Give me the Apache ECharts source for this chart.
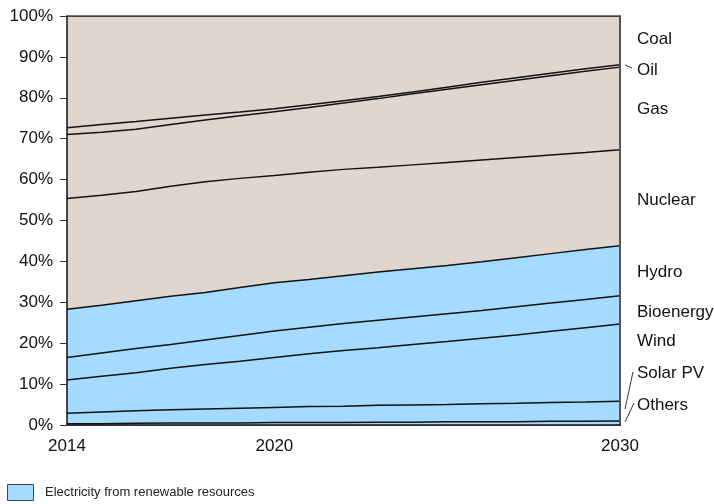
<!DOCTYPE html>
<html>
<head>
<meta charset="utf-8">
<script src="https://cdn.jsdelivr.net/npm/echarts@6/dist/echarts.min.js"></script>
<style>
  html, body { margin: 0; padding: 0; background: #fff; }
  #chart { width: 714px; height: 504px; }
</style>
</head>
<body>
<div id="chart"></div>
<script>
// years on the x axis
var years = ['2014', '2015', '2016', '2017', '2018', '2019', '2020', '2021', '2022',
  '2023', '2024', '2025', '2026', '2027', '2028', '2029', '2030'];
var yearLabels = ['2014', '2020', '2030'];

// share of electricity generation, % (stacked bottom -> top)
var others = [0.3, 0.3, 0.4, 0.5, 0.5, 0.5, 0.6, 0.6, 0.6, 0.7, 0.7, 0.8, 0.8, 0.8, 0.9, 0.9, 1.0];
var solarPV = [2.6, 2.9, 3.1, 3.2, 3.4, 3.6, 3.7, 3.9, 4.0, 4.1, 4.2, 4.2, 4.4, 4.5, 4.6, 4.7, 4.8];
var wind = [8.1, 8.7, 9.3, 10.2, 10.9, 11.5, 12.2, 12.9, 13.6, 14.1, 14.8, 15.4, 16.0, 16.7, 17.4, 18.2, 18.9];
var bioenergy = [5.5, 5.7, 5.9, 5.8, 6.0, 6.3, 6.5, 6.5, 6.6, 6.7, 6.7, 6.8, 6.8, 6.9, 6.9, 6.9, 6.9];
var hydro = [11.8, 11.7, 11.7, 11.8, 11.6, 11.7, 11.8, 11.7, 11.7, 11.8, 11.8, 11.8, 11.9, 12.0, 12.1, 12.2, 12.2];
var nuclear = [27.1, 26.9, 26.7, 26.9, 27.1, 26.7, 26.2, 26.2, 26.0, 25.6, 25.4, 25.2, 24.9, 24.5, 24.1, 23.7, 23.5];
var gas = [15.6, 15.4, 15.2, 15.1, 15.1, 15.3, 15.6, 15.8, 16.2, 16.8, 17.4, 17.9, 18.4, 18.9, 19.4, 19.9, 20.2];
var oil = [1.7, 1.9, 1.9, 1.5, 1.2, 0.9, 0.7, 0.7, 0.6, 0.5, 0.4, 0.5, 0.6, 0.6, 0.6, 0.6, 0.6];
var coal = [27.3, 26.5, 25.8, 25.0, 24.2, 23.5, 22.7, 21.7, 20.7, 19.7, 18.6, 17.4, 16.2, 15.1, 14.0, 12.9, 11.9];

var BLUE = '#a5dbff';
var BEIGE = '#dfd6d0';
var FONT = '"Liberation Sans", Arial, sans-serif';

var layers = [
  {name: 'Others', data: others, color: BLUE},
  {name: 'Solar PV', data: solarPV, color: BLUE},
  {name: 'Wind', data: wind, color: BLUE},
  {name: 'Bioenergy', data: bioenergy, color: BLUE},
  {name: 'Hydro', data: hydro, color: BLUE},
  {name: 'Nuclear', data: nuclear, color: BEIGE},
  {name: 'Gas', data: gas, color: BEIGE},
  {name: 'Oil', data: oil, color: BEIGE},
  {name: 'Coal', data: coal, color: BEIGE}
];

var series = [];
// filled bands
layers.forEach(function (l) {
  series.push({
    name: l.name,
    type: 'line',
    stack: 'area',
    data: l.data,
    symbol: 'none',
    lineStyle: {width: 0},
    areaStyle: {color: l.color, opacity: 1},
    z: 2,
    silent: true
  });
});
// black boundary lines drawn on top of all bands
layers.forEach(function (l) {
  series.push({
    name: l.name + ' line',
    type: 'line',
    stack: 'lines',
    data: l.data,
    symbol: 'none',
    lineStyle: {color: '#111', width: 1.5},
    z: 3,
    silent: true
  });
});

// labels at the right side (text, vertical centre)
var sideLabels = [
  ['Coal', 39], ['Oil', 70], ['Gas', 109], ['Nuclear', 200], ['Hydro', 272],
  ['Bioenergy', 312], ['Wind', 341], ['Solar PV', 373], ['Others', 405]
];

var graphics = sideLabels.map(function (s) {
  return {
    type: 'text',
    style: {x: 637, y: s[1], text: s[0], font: '17px ' + FONT, fill: '#111', verticalAlign: 'middle'}
  };
});
// leader lines
graphics.push(
  {type: 'line', shape: {x1: 625, y1: 65, x2: 632, y2: 68}, style: {stroke: '#333', lineWidth: 1}},
  {type: 'line', shape: {x1: 625, y1: 409, x2: 633, y2: 372}, style: {stroke: '#333', lineWidth: 1}},
  {type: 'line', shape: {x1: 625, y1: 422, x2: 634, y2: 403}, style: {stroke: '#333', lineWidth: 1}}
);
// legend
graphics.push(
  {type: 'rect', shape: {x: 7.5, y: 484.5, width: 26, height: 16}, style: {fill: BLUE, stroke: '#444', lineWidth: 1}},
  {type: 'text', style: {x: 45, y: 492, text: 'Electricity from renewable resources', font: '13px ' + FONT, fill: '#222', verticalAlign: 'middle'}}
);

var chart = echarts.init(document.getElementById('chart'));
chart.setOption({
  animation: false,
  backgroundColor: '#fff',
  grid: {left: 67, right: 94, top: 16, bottom: 79},
  xAxis: [
    {
      type: 'category',
      data: years,
      boundaryGap: false,
      z: 10,
      axisLine: {lineStyle: {color: '#111', width: 1.5}},
      axisTick: {show: false},
      axisLabel: {
        interval: function (i, v) { return yearLabels.indexOf(v) >= 0; },
        margin: 13,
        fontSize: 17,
        fontFamily: FONT,
        color: '#111'
      },
      splitLine: {show: false}
    },
    {
      type: 'category',
      data: years,
      boundaryGap: false,
      position: 'top',
      z: 10,
      axisLine: {lineStyle: {color: '#333', width: 1}},
      axisTick: {show: false},
      axisLabel: {show: false}
    }
  ],
  yAxis: [
    {
      type: 'value',
      min: 0,
      max: 100,
      interval: 10,
      z: 10,
      axisLine: {show: true, lineStyle: {color: '#111', width: 1.5}},
      axisTick: {show: true, length: 7, lineStyle: {color: '#333'}},
      axisLabel: {formatter: '{value}%', fontSize: 17, fontFamily: FONT, color: '#111', margin: 14},
      splitLine: {show: false}
    },
    {
      type: 'value',
      min: 0,
      max: 100,
      position: 'right',
      z: 10,
      axisLine: {show: true, lineStyle: {color: '#555', width: 2}},
      axisTick: {show: false},
      axisLabel: {show: false},
      splitLine: {show: false}
    }
  ],
  series: series,
  graphic: graphics
});
</script>
</body>
</html>
